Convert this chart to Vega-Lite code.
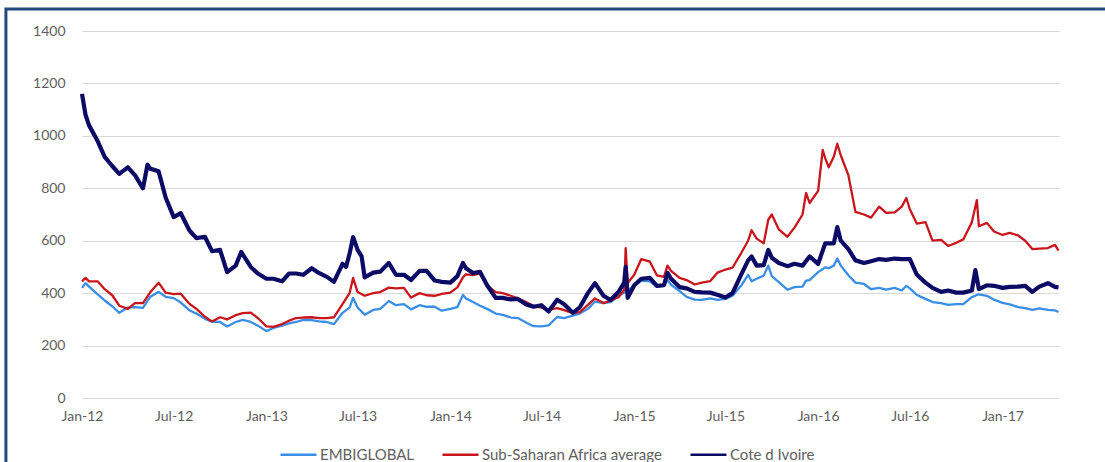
{
"$schema": "https://vega.github.io/schema/vega-lite/v6.json",
"width": 977,
"height": 367,
"autosize": {"type": "none"},
"padding": {"left": 82, "top": 31, "right": 46, "bottom": 64},
"background": "white",
"config": {"view": {"stroke": null}, "font": "Lato"},
"layer": [
{
"data": {"values": [{}]},
"mark": {"type": "rect", "fillOpacity": 0, "stroke": "#23497a", "strokeWidth": 3, "clip": false},
"encoding": {
"x": {"datum": {"year": 2011, "month": 8, "date": 3, "utc": true}, "type": "temporal"},
"x2": {"datum": {"year": 2018, "month": 6, "date": 1, "utc": true}},
"y": {"datum": 1484, "type": "quantitative"},
"y2": {"datum": -400}
}
},
{
"data": {"values": [
{"series":"EMBIGLOBAL","date":"2012-01-01","spread":420},{"series":"EMBIGLOBAL","date":"2012-01-08","spread":438},{"series":"EMBIGLOBAL","date":"2012-01-15","spread":425},{"series":"EMBIGLOBAL","date":"2012-02-01","spread":395},{"series":"EMBIGLOBAL","date":"2012-02-15","spread":372},{"series":"EMBIGLOBAL","date":"2012-03-01","spread":350},{"series":"EMBIGLOBAL","date":"2012-03-15","spread":325},{"series":"EMBIGLOBAL","date":"2012-04-01","spread":345},{"series":"EMBIGLOBAL","date":"2012-04-15","spread":347},{"series":"EMBIGLOBAL","date":"2012-05-01","spread":344},{"series":"EMBIGLOBAL","date":"2012-05-15","spread":385},{"series":"EMBIGLOBAL","date":"2012-06-01","spread":405},{"series":"EMBIGLOBAL","date":"2012-06-15","spread":386},{"series":"EMBIGLOBAL","date":"2012-07-01","spread":381},{"series":"EMBIGLOBAL","date":"2012-07-15","spread":364},{"series":"EMBIGLOBAL","date":"2012-08-01","spread":335},{"series":"EMBIGLOBAL","date":"2012-08-15","spread":322},{"series":"EMBIGLOBAL","date":"2012-09-01","spread":302},{"series":"EMBIGLOBAL","date":"2012-09-15","spread":291},{"series":"EMBIGLOBAL","date":"2012-10-01","spread":290},{"series":"EMBIGLOBAL","date":"2012-10-15","spread":273},{"series":"EMBIGLOBAL","date":"2012-11-01","spread":290},{"series":"EMBIGLOBAL","date":"2012-11-15","spread":298},{"series":"EMBIGLOBAL","date":"2012-12-01","spread":290},{"series":"EMBIGLOBAL","date":"2012-12-15","spread":276},
{"series":"EMBIGLOBAL","date":"2013-01-01","spread":255},{"series":"EMBIGLOBAL","date":"2013-01-15","spread":267},{"series":"EMBIGLOBAL","date":"2013-02-01","spread":276},{"series":"EMBIGLOBAL","date":"2013-02-15","spread":285},{"series":"EMBIGLOBAL","date":"2013-03-01","spread":290},{"series":"EMBIGLOBAL","date":"2013-03-15","spread":298},{"series":"EMBIGLOBAL","date":"2013-04-01","spread":297},{"series":"EMBIGLOBAL","date":"2013-04-15","spread":292},{"series":"EMBIGLOBAL","date":"2013-05-01","spread":290},{"series":"EMBIGLOBAL","date":"2013-05-15","spread":282},{"series":"EMBIGLOBAL","date":"2013-06-01","spread":325},{"series":"EMBIGLOBAL","date":"2013-06-15","spread":345},{"series":"EMBIGLOBAL","date":"2013-06-22","spread":382},{"series":"EMBIGLOBAL","date":"2013-07-01","spread":345},{"series":"EMBIGLOBAL","date":"2013-07-15","spread":318},{"series":"EMBIGLOBAL","date":"2013-08-01","spread":336},{"series":"EMBIGLOBAL","date":"2013-08-15","spread":340},{"series":"EMBIGLOBAL","date":"2013-09-01","spread":370},{"series":"EMBIGLOBAL","date":"2013-09-15","spread":354},{"series":"EMBIGLOBAL","date":"2013-10-01","spread":358},{"series":"EMBIGLOBAL","date":"2013-10-15","spread":338},{"series":"EMBIGLOBAL","date":"2013-11-01","spread":354},{"series":"EMBIGLOBAL","date":"2013-11-15","spread":348},{"series":"EMBIGLOBAL","date":"2013-12-01","spread":348},{"series":"EMBIGLOBAL","date":"2013-12-15","spread":333},
{"series":"EMBIGLOBAL","date":"2014-01-01","spread":340},{"series":"EMBIGLOBAL","date":"2014-01-15","spread":347},{"series":"EMBIGLOBAL","date":"2014-01-26","spread":393},{"series":"EMBIGLOBAL","date":"2014-02-01","spread":380},{"series":"EMBIGLOBAL","date":"2014-02-15","spread":366},{"series":"EMBIGLOBAL","date":"2014-03-01","spread":352},{"series":"EMBIGLOBAL","date":"2014-03-15","spread":340},{"series":"EMBIGLOBAL","date":"2014-04-01","spread":322},{"series":"EMBIGLOBAL","date":"2014-04-15","spread":317},{"series":"EMBIGLOBAL","date":"2014-05-01","spread":307},{"series":"EMBIGLOBAL","date":"2014-05-15","spread":305},{"series":"EMBIGLOBAL","date":"2014-06-01","spread":287},{"series":"EMBIGLOBAL","date":"2014-06-15","spread":274},{"series":"EMBIGLOBAL","date":"2014-07-01","spread":273},{"series":"EMBIGLOBAL","date":"2014-07-15","spread":277},{"series":"EMBIGLOBAL","date":"2014-08-01","spread":309},{"series":"EMBIGLOBAL","date":"2014-08-15","spread":305},{"series":"EMBIGLOBAL","date":"2014-09-01","spread":314},{"series":"EMBIGLOBAL","date":"2014-09-15","spread":322},{"series":"EMBIGLOBAL","date":"2014-10-01","spread":340},{"series":"EMBIGLOBAL","date":"2014-10-15","spread":368},{"series":"EMBIGLOBAL","date":"2014-11-01","spread":362},{"series":"EMBIGLOBAL","date":"2014-11-15","spread":366},{"series":"EMBIGLOBAL","date":"2014-12-01","spread":390},{"series":"EMBIGLOBAL","date":"2014-12-15","spread":405},
{"series":"EMBIGLOBAL","date":"2015-01-01","spread":428},{"series":"EMBIGLOBAL","date":"2015-01-15","spread":448},{"series":"EMBIGLOBAL","date":"2015-02-01","spread":445},{"series":"EMBIGLOBAL","date":"2015-02-15","spread":424},{"series":"EMBIGLOBAL","date":"2015-03-01","spread":430},{"series":"EMBIGLOBAL","date":"2015-03-08","spread":450},{"series":"EMBIGLOBAL","date":"2015-03-15","spread":432},{"series":"EMBIGLOBAL","date":"2015-04-01","spread":408},{"series":"EMBIGLOBAL","date":"2015-04-15","spread":386},{"series":"EMBIGLOBAL","date":"2015-05-01","spread":375},{"series":"EMBIGLOBAL","date":"2015-05-15","spread":374},{"series":"EMBIGLOBAL","date":"2015-06-01","spread":380},{"series":"EMBIGLOBAL","date":"2015-06-15","spread":374},{"series":"EMBIGLOBAL","date":"2015-07-01","spread":378},{"series":"EMBIGLOBAL","date":"2015-07-15","spread":390},{"series":"EMBIGLOBAL","date":"2015-08-01","spread":428},{"series":"EMBIGLOBAL","date":"2015-08-15","spread":470},{"series":"EMBIGLOBAL","date":"2015-08-22","spread":445},{"series":"EMBIGLOBAL","date":"2015-09-01","spread":455},{"series":"EMBIGLOBAL","date":"2015-09-15","spread":467},{"series":"EMBIGLOBAL","date":"2015-09-24","spread":505},{"series":"EMBIGLOBAL","date":"2015-10-01","spread":465},{"series":"EMBIGLOBAL","date":"2015-10-15","spread":442},{"series":"EMBIGLOBAL","date":"2015-11-01","spread":413},{"series":"EMBIGLOBAL","date":"2015-11-15","spread":423},{"series":"EMBIGLOBAL","date":"2015-12-01","spread":425},{"series":"EMBIGLOBAL","date":"2015-12-08","spread":448},{"series":"EMBIGLOBAL","date":"2015-12-15","spread":450},
{"series":"EMBIGLOBAL","date":"2016-01-01","spread":480},{"series":"EMBIGLOBAL","date":"2016-01-10","spread":492},{"series":"EMBIGLOBAL","date":"2016-01-15","spread":498},{"series":"EMBIGLOBAL","date":"2016-01-22","spread":495},{"series":"EMBIGLOBAL","date":"2016-02-01","spread":505},{"series":"EMBIGLOBAL","date":"2016-02-08","spread":532},{"series":"EMBIGLOBAL","date":"2016-02-15","spread":505},{"series":"EMBIGLOBAL","date":"2016-03-01","spread":468},{"series":"EMBIGLOBAL","date":"2016-03-15","spread":440},{"series":"EMBIGLOBAL","date":"2016-04-01","spread":435},{"series":"EMBIGLOBAL","date":"2016-04-15","spread":415},{"series":"EMBIGLOBAL","date":"2016-05-01","spread":420},{"series":"EMBIGLOBAL","date":"2016-05-15","spread":413},{"series":"EMBIGLOBAL","date":"2016-06-01","spread":420},{"series":"EMBIGLOBAL","date":"2016-06-15","spread":410},{"series":"EMBIGLOBAL","date":"2016-06-24","spread":428},{"series":"EMBIGLOBAL","date":"2016-07-01","spread":418},{"series":"EMBIGLOBAL","date":"2016-07-15","spread":393},{"series":"EMBIGLOBAL","date":"2016-08-01","spread":378},{"series":"EMBIGLOBAL","date":"2016-08-15","spread":366},{"series":"EMBIGLOBAL","date":"2016-09-01","spread":362},{"series":"EMBIGLOBAL","date":"2016-09-15","spread":355},{"series":"EMBIGLOBAL","date":"2016-10-01","spread":358},{"series":"EMBIGLOBAL","date":"2016-10-15","spread":358},{"series":"EMBIGLOBAL","date":"2016-11-01","spread":385},{"series":"EMBIGLOBAL","date":"2016-11-11","spread":393},{"series":"EMBIGLOBAL","date":"2016-11-15","spread":395},{"series":"EMBIGLOBAL","date":"2016-12-01","spread":390},{"series":"EMBIGLOBAL","date":"2016-12-15","spread":375},
{"series":"EMBIGLOBAL","date":"2017-01-01","spread":363},{"series":"EMBIGLOBAL","date":"2017-01-15","spread":357},{"series":"EMBIGLOBAL","date":"2017-02-01","spread":347},{"series":"EMBIGLOBAL","date":"2017-02-15","spread":343},{"series":"EMBIGLOBAL","date":"2017-03-01","spread":336},{"series":"EMBIGLOBAL","date":"2017-03-15","spread":342},{"series":"EMBIGLOBAL","date":"2017-04-01","spread":336},{"series":"EMBIGLOBAL","date":"2017-04-15","spread":334},{"series":"EMBIGLOBAL","date":"2017-04-22","spread":328},
{"series":"Sub-Saharan Africa average","date":"2012-01-01","spread":445},{"series":"Sub-Saharan Africa average","date":"2012-01-08","spread":458},{"series":"Sub-Saharan Africa average","date":"2012-01-15","spread":445},{"series":"Sub-Saharan Africa average","date":"2012-02-01","spread":445},{"series":"Sub-Saharan Africa average","date":"2012-02-15","spread":415},{"series":"Sub-Saharan Africa average","date":"2012-03-01","spread":392},{"series":"Sub-Saharan Africa average","date":"2012-03-15","spread":352},{"series":"Sub-Saharan Africa average","date":"2012-04-01","spread":340},{"series":"Sub-Saharan Africa average","date":"2012-04-15","spread":362},{"series":"Sub-Saharan Africa average","date":"2012-05-01","spread":362},{"series":"Sub-Saharan Africa average","date":"2012-05-15","spread":402},{"series":"Sub-Saharan Africa average","date":"2012-06-01","spread":440},{"series":"Sub-Saharan Africa average","date":"2012-06-15","spread":402},{"series":"Sub-Saharan Africa average","date":"2012-07-01","spread":396},{"series":"Sub-Saharan Africa average","date":"2012-07-15","spread":398},{"series":"Sub-Saharan Africa average","date":"2012-08-01","spread":360},{"series":"Sub-Saharan Africa average","date":"2012-08-15","spread":340},{"series":"Sub-Saharan Africa average","date":"2012-09-01","spread":310},{"series":"Sub-Saharan Africa average","date":"2012-09-15","spread":292},{"series":"Sub-Saharan Africa average","date":"2012-10-01","spread":308},{"series":"Sub-Saharan Africa average","date":"2012-10-15","spread":300},{"series":"Sub-Saharan Africa average","date":"2012-11-01","spread":316},{"series":"Sub-Saharan Africa average","date":"2012-11-15","spread":324},{"series":"Sub-Saharan Africa average","date":"2012-12-01","spread":326},{"series":"Sub-Saharan Africa average","date":"2012-12-15","spread":305},
{"series":"Sub-Saharan Africa average","date":"2013-01-01","spread":273},{"series":"Sub-Saharan Africa average","date":"2013-01-15","spread":271},{"series":"Sub-Saharan Africa average","date":"2013-02-01","spread":282},{"series":"Sub-Saharan Africa average","date":"2013-02-15","spread":295},{"series":"Sub-Saharan Africa average","date":"2013-03-01","spread":305},{"series":"Sub-Saharan Africa average","date":"2013-03-15","spread":307},{"series":"Sub-Saharan Africa average","date":"2013-04-01","spread":308},{"series":"Sub-Saharan Africa average","date":"2013-04-15","spread":305},{"series":"Sub-Saharan Africa average","date":"2013-05-01","spread":305},{"series":"Sub-Saharan Africa average","date":"2013-05-15","spread":308},{"series":"Sub-Saharan Africa average","date":"2013-06-01","spread":358},{"series":"Sub-Saharan Africa average","date":"2013-06-15","spread":400},{"series":"Sub-Saharan Africa average","date":"2013-06-22","spread":458},{"series":"Sub-Saharan Africa average","date":"2013-07-01","spread":404},{"series":"Sub-Saharan Africa average","date":"2013-07-15","spread":390},{"series":"Sub-Saharan Africa average","date":"2013-08-01","spread":400},{"series":"Sub-Saharan Africa average","date":"2013-08-15","spread":404},{"series":"Sub-Saharan Africa average","date":"2013-09-01","spread":421},{"series":"Sub-Saharan Africa average","date":"2013-09-15","spread":418},{"series":"Sub-Saharan Africa average","date":"2013-10-01","spread":420},{"series":"Sub-Saharan Africa average","date":"2013-10-15","spread":383},{"series":"Sub-Saharan Africa average","date":"2013-11-01","spread":400},{"series":"Sub-Saharan Africa average","date":"2013-11-15","spread":392},{"series":"Sub-Saharan Africa average","date":"2013-12-01","spread":390},{"series":"Sub-Saharan Africa average","date":"2013-12-15","spread":397},
{"series":"Sub-Saharan Africa average","date":"2014-01-01","spread":402},{"series":"Sub-Saharan Africa average","date":"2014-01-15","spread":422},{"series":"Sub-Saharan Africa average","date":"2014-01-26","spread":460},{"series":"Sub-Saharan Africa average","date":"2014-02-01","spread":472},{"series":"Sub-Saharan Africa average","date":"2014-02-15","spread":469},{"series":"Sub-Saharan Africa average","date":"2014-03-01","spread":475},{"series":"Sub-Saharan Africa average","date":"2014-03-15","spread":430},{"series":"Sub-Saharan Africa average","date":"2014-04-01","spread":404},{"series":"Sub-Saharan Africa average","date":"2014-04-15","spread":400},{"series":"Sub-Saharan Africa average","date":"2014-05-01","spread":390},{"series":"Sub-Saharan Africa average","date":"2014-05-15","spread":380},{"series":"Sub-Saharan Africa average","date":"2014-06-01","spread":365},{"series":"Sub-Saharan Africa average","date":"2014-06-15","spread":352},{"series":"Sub-Saharan Africa average","date":"2014-07-01","spread":345},{"series":"Sub-Saharan Africa average","date":"2014-07-15","spread":336},{"series":"Sub-Saharan Africa average","date":"2014-08-01","spread":343},{"series":"Sub-Saharan Africa average","date":"2014-08-15","spread":335},{"series":"Sub-Saharan Africa average","date":"2014-09-01","spread":324},{"series":"Sub-Saharan Africa average","date":"2014-09-15","spread":328},{"series":"Sub-Saharan Africa average","date":"2014-10-01","spread":355},{"series":"Sub-Saharan Africa average","date":"2014-10-15","spread":380},{"series":"Sub-Saharan Africa average","date":"2014-11-01","spread":362},{"series":"Sub-Saharan Africa average","date":"2014-11-15","spread":372},{"series":"Sub-Saharan Africa average","date":"2014-12-01","spread":385},{"series":"Sub-Saharan Africa average","date":"2014-12-12","spread":412},{"series":"Sub-Saharan Africa average","date":"2014-12-15","spread":572},{"series":"Sub-Saharan Africa average","date":"2014-12-19","spread":439},
{"series":"Sub-Saharan Africa average","date":"2015-01-01","spread":470},{"series":"Sub-Saharan Africa average","date":"2015-01-15","spread":530},{"series":"Sub-Saharan Africa average","date":"2015-02-01","spread":520},{"series":"Sub-Saharan Africa average","date":"2015-02-15","spread":468},{"series":"Sub-Saharan Africa average","date":"2015-03-01","spread":462},{"series":"Sub-Saharan Africa average","date":"2015-03-08","spread":505},{"series":"Sub-Saharan Africa average","date":"2015-03-15","spread":485},{"series":"Sub-Saharan Africa average","date":"2015-04-01","spread":458},{"series":"Sub-Saharan Africa average","date":"2015-04-15","spread":450},{"series":"Sub-Saharan Africa average","date":"2015-05-01","spread":433},{"series":"Sub-Saharan Africa average","date":"2015-05-15","spread":440},{"series":"Sub-Saharan Africa average","date":"2015-06-01","spread":446},{"series":"Sub-Saharan Africa average","date":"2015-06-15","spread":478},{"series":"Sub-Saharan Africa average","date":"2015-07-01","spread":490},{"series":"Sub-Saharan Africa average","date":"2015-07-15","spread":497},{"series":"Sub-Saharan Africa average","date":"2015-08-01","spread":552},{"series":"Sub-Saharan Africa average","date":"2015-08-15","spread":600},{"series":"Sub-Saharan Africa average","date":"2015-08-22","spread":640},{"series":"Sub-Saharan Africa average","date":"2015-09-01","spread":608},{"series":"Sub-Saharan Africa average","date":"2015-09-15","spread":590},{"series":"Sub-Saharan Africa average","date":"2015-09-24","spread":680},{"series":"Sub-Saharan Africa average","date":"2015-10-01","spread":700},{"series":"Sub-Saharan Africa average","date":"2015-10-15","spread":643},{"series":"Sub-Saharan Africa average","date":"2015-11-01","spread":615},{"series":"Sub-Saharan Africa average","date":"2015-11-15","spread":650},{"series":"Sub-Saharan Africa average","date":"2015-12-01","spread":700},{"series":"Sub-Saharan Africa average","date":"2015-12-08","spread":782},{"series":"Sub-Saharan Africa average","date":"2015-12-15","spread":744},
{"series":"Sub-Saharan Africa average","date":"2016-01-01","spread":790},{"series":"Sub-Saharan Africa average","date":"2016-01-10","spread":946},{"series":"Sub-Saharan Africa average","date":"2016-01-15","spread":915},{"series":"Sub-Saharan Africa average","date":"2016-01-22","spread":880},{"series":"Sub-Saharan Africa average","date":"2016-02-01","spread":920},{"series":"Sub-Saharan Africa average","date":"2016-02-08","spread":970},{"series":"Sub-Saharan Africa average","date":"2016-02-15","spread":925},{"series":"Sub-Saharan Africa average","date":"2016-03-01","spread":850},{"series":"Sub-Saharan Africa average","date":"2016-03-15","spread":710},{"series":"Sub-Saharan Africa average","date":"2016-04-01","spread":700},{"series":"Sub-Saharan Africa average","date":"2016-04-15","spread":688},{"series":"Sub-Saharan Africa average","date":"2016-05-01","spread":730},{"series":"Sub-Saharan Africa average","date":"2016-05-15","spread":706},{"series":"Sub-Saharan Africa average","date":"2016-06-01","spread":708},{"series":"Sub-Saharan Africa average","date":"2016-06-15","spread":730},{"series":"Sub-Saharan Africa average","date":"2016-06-24","spread":763},{"series":"Sub-Saharan Africa average","date":"2016-07-01","spread":720},{"series":"Sub-Saharan Africa average","date":"2016-07-15","spread":665},{"series":"Sub-Saharan Africa average","date":"2016-08-01","spread":671},{"series":"Sub-Saharan Africa average","date":"2016-08-15","spread":600},{"series":"Sub-Saharan Africa average","date":"2016-09-01","spread":603},{"series":"Sub-Saharan Africa average","date":"2016-09-15","spread":580},{"series":"Sub-Saharan Africa average","date":"2016-10-01","spread":592},{"series":"Sub-Saharan Africa average","date":"2016-10-15","spread":605},{"series":"Sub-Saharan Africa average","date":"2016-11-01","spread":670},{"series":"Sub-Saharan Africa average","date":"2016-11-11","spread":755},{"series":"Sub-Saharan Africa average","date":"2016-11-15","spread":655},{"series":"Sub-Saharan Africa average","date":"2016-12-01","spread":668},{"series":"Sub-Saharan Africa average","date":"2016-12-15","spread":635},
{"series":"Sub-Saharan Africa average","date":"2017-01-01","spread":622},{"series":"Sub-Saharan Africa average","date":"2017-01-15","spread":630},{"series":"Sub-Saharan Africa average","date":"2017-02-01","spread":620},{"series":"Sub-Saharan Africa average","date":"2017-02-15","spread":600},{"series":"Sub-Saharan Africa average","date":"2017-03-01","spread":568},{"series":"Sub-Saharan Africa average","date":"2017-03-15","spread":570},{"series":"Sub-Saharan Africa average","date":"2017-04-01","spread":572},{"series":"Sub-Saharan Africa average","date":"2017-04-15","spread":584},{"series":"Sub-Saharan Africa average","date":"2017-04-22","spread":562},
{"series":"Cote d Ivoire","date":"2012-01-01","spread":1160},{"series":"Cote d Ivoire","date":"2012-01-08","spread":1080},{"series":"Cote d Ivoire","date":"2012-01-15","spread":1040},{"series":"Cote d Ivoire","date":"2012-02-01","spread":980},{"series":"Cote d Ivoire","date":"2012-02-15","spread":920},{"series":"Cote d Ivoire","date":"2012-03-01","spread":885},{"series":"Cote d Ivoire","date":"2012-03-15","spread":855},{"series":"Cote d Ivoire","date":"2012-04-01","spread":880},{"series":"Cote d Ivoire","date":"2012-04-15","spread":850},{"series":"Cote d Ivoire","date":"2012-05-01","spread":800},{"series":"Cote d Ivoire","date":"2012-05-10","spread":890},{"series":"Cote d Ivoire","date":"2012-05-15","spread":875},{"series":"Cote d Ivoire","date":"2012-06-01","spread":865},{"series":"Cote d Ivoire","date":"2012-06-15","spread":765},{"series":"Cote d Ivoire","date":"2012-07-01","spread":690},{"series":"Cote d Ivoire","date":"2012-07-15","spread":705},{"series":"Cote d Ivoire","date":"2012-08-01","spread":640},{"series":"Cote d Ivoire","date":"2012-08-15","spread":610},{"series":"Cote d Ivoire","date":"2012-09-01","spread":615},{"series":"Cote d Ivoire","date":"2012-09-15","spread":560},{"series":"Cote d Ivoire","date":"2012-10-01","spread":565},{"series":"Cote d Ivoire","date":"2012-10-15","spread":480},{"series":"Cote d Ivoire","date":"2012-11-01","spread":505},{"series":"Cote d Ivoire","date":"2012-11-12","spread":557},{"series":"Cote d Ivoire","date":"2012-12-01","spread":500},{"series":"Cote d Ivoire","date":"2012-12-15","spread":475},
{"series":"Cote d Ivoire","date":"2013-01-01","spread":455},{"series":"Cote d Ivoire","date":"2013-01-15","spread":455},{"series":"Cote d Ivoire","date":"2013-02-01","spread":445},{"series":"Cote d Ivoire","date":"2013-02-15","spread":475},{"series":"Cote d Ivoire","date":"2013-03-01","spread":475},{"series":"Cote d Ivoire","date":"2013-03-15","spread":470},{"series":"Cote d Ivoire","date":"2013-04-01","spread":495},{"series":"Cote d Ivoire","date":"2013-04-15","spread":477},{"series":"Cote d Ivoire","date":"2013-05-01","spread":462},{"series":"Cote d Ivoire","date":"2013-05-15","spread":443},{"series":"Cote d Ivoire","date":"2013-06-01","spread":512},{"series":"Cote d Ivoire","date":"2013-06-08","spread":500},{"series":"Cote d Ivoire","date":"2013-06-15","spread":550},{"series":"Cote d Ivoire","date":"2013-06-22","spread":614},{"series":"Cote d Ivoire","date":"2013-07-01","spread":565},{"series":"Cote d Ivoire","date":"2013-07-09","spread":540},{"series":"Cote d Ivoire","date":"2013-07-15","spread":460},{"series":"Cote d Ivoire","date":"2013-08-01","spread":478},{"series":"Cote d Ivoire","date":"2013-08-15","spread":482},{"series":"Cote d Ivoire","date":"2013-09-01","spread":515},{"series":"Cote d Ivoire","date":"2013-09-15","spread":470},{"series":"Cote d Ivoire","date":"2013-10-01","spread":470},{"series":"Cote d Ivoire","date":"2013-10-15","spread":450},{"series":"Cote d Ivoire","date":"2013-11-01","spread":485},{"series":"Cote d Ivoire","date":"2013-11-15","spread":485},{"series":"Cote d Ivoire","date":"2013-12-01","spread":448},{"series":"Cote d Ivoire","date":"2013-12-15","spread":443},
{"series":"Cote d Ivoire","date":"2014-01-01","spread":440},{"series":"Cote d Ivoire","date":"2014-01-15","spread":465},{"series":"Cote d Ivoire","date":"2014-01-26","spread":515},{"series":"Cote d Ivoire","date":"2014-02-01","spread":495},{"series":"Cote d Ivoire","date":"2014-02-15","spread":477},{"series":"Cote d Ivoire","date":"2014-03-01","spread":481},{"series":"Cote d Ivoire","date":"2014-03-15","spread":430},{"series":"Cote d Ivoire","date":"2014-04-01","spread":382},{"series":"Cote d Ivoire","date":"2014-04-15","spread":382},{"series":"Cote d Ivoire","date":"2014-05-01","spread":376},{"series":"Cote d Ivoire","date":"2014-05-15","spread":378},{"series":"Cote d Ivoire","date":"2014-06-01","spread":357},{"series":"Cote d Ivoire","date":"2014-06-15","spread":348},{"series":"Cote d Ivoire","date":"2014-07-01","spread":354},{"series":"Cote d Ivoire","date":"2014-07-15","spread":330},{"series":"Cote d Ivoire","date":"2014-08-01","spread":375},{"series":"Cote d Ivoire","date":"2014-08-15","spread":358},{"series":"Cote d Ivoire","date":"2014-09-01","spread":325},{"series":"Cote d Ivoire","date":"2014-09-15","spread":346},{"series":"Cote d Ivoire","date":"2014-10-01","spread":400},{"series":"Cote d Ivoire","date":"2014-10-15","spread":438},{"series":"Cote d Ivoire","date":"2014-11-01","spread":390},{"series":"Cote d Ivoire","date":"2014-11-15","spread":374},{"series":"Cote d Ivoire","date":"2014-12-01","spread":405},{"series":"Cote d Ivoire","date":"2014-12-12","spread":440},{"series":"Cote d Ivoire","date":"2014-12-15","spread":500},{"series":"Cote d Ivoire","date":"2014-12-19","spread":382},
{"series":"Cote d Ivoire","date":"2015-01-01","spread":430},{"series":"Cote d Ivoire","date":"2015-01-15","spread":455},{"series":"Cote d Ivoire","date":"2015-02-01","spread":458},{"series":"Cote d Ivoire","date":"2015-02-15","spread":428},{"series":"Cote d Ivoire","date":"2015-03-01","spread":430},{"series":"Cote d Ivoire","date":"2015-03-08","spread":477},{"series":"Cote d Ivoire","date":"2015-03-15","spread":455},{"series":"Cote d Ivoire","date":"2015-04-01","spread":423},{"series":"Cote d Ivoire","date":"2015-04-15","spread":418},{"series":"Cote d Ivoire","date":"2015-05-01","spread":405},{"series":"Cote d Ivoire","date":"2015-05-15","spread":403},{"series":"Cote d Ivoire","date":"2015-06-01","spread":402},{"series":"Cote d Ivoire","date":"2015-06-15","spread":394},{"series":"Cote d Ivoire","date":"2015-07-01","spread":383},{"series":"Cote d Ivoire","date":"2015-07-15","spread":400},{"series":"Cote d Ivoire","date":"2015-08-01","spread":470},{"series":"Cote d Ivoire","date":"2015-08-15","spread":525},{"series":"Cote d Ivoire","date":"2015-08-22","spread":540},{"series":"Cote d Ivoire","date":"2015-09-01","spread":505},{"series":"Cote d Ivoire","date":"2015-09-15","spread":507},{"series":"Cote d Ivoire","date":"2015-09-24","spread":565},{"series":"Cote d Ivoire","date":"2015-10-01","spread":535},{"series":"Cote d Ivoire","date":"2015-10-15","spread":515},{"series":"Cote d Ivoire","date":"2015-11-01","spread":503},{"series":"Cote d Ivoire","date":"2015-11-15","spread":512},{"series":"Cote d Ivoire","date":"2015-12-01","spread":505},{"series":"Cote d Ivoire","date":"2015-12-15","spread":540},
{"series":"Cote d Ivoire","date":"2016-01-01","spread":512},{"series":"Cote d Ivoire","date":"2016-01-15","spread":590},{"series":"Cote d Ivoire","date":"2016-02-01","spread":590},{"series":"Cote d Ivoire","date":"2016-02-08","spread":652},{"series":"Cote d Ivoire","date":"2016-02-15","spread":600},{"series":"Cote d Ivoire","date":"2016-03-01","spread":568},{"series":"Cote d Ivoire","date":"2016-03-15","spread":525},{"series":"Cote d Ivoire","date":"2016-04-01","spread":515},{"series":"Cote d Ivoire","date":"2016-04-15","spread":522},{"series":"Cote d Ivoire","date":"2016-05-01","spread":530},{"series":"Cote d Ivoire","date":"2016-05-15","spread":527},{"series":"Cote d Ivoire","date":"2016-06-01","spread":532},{"series":"Cote d Ivoire","date":"2016-06-15","spread":530},{"series":"Cote d Ivoire","date":"2016-07-01","spread":530},{"series":"Cote d Ivoire","date":"2016-07-15","spread":470},{"series":"Cote d Ivoire","date":"2016-08-01","spread":440},{"series":"Cote d Ivoire","date":"2016-08-15","spread":420},{"series":"Cote d Ivoire","date":"2016-09-01","spread":405},{"series":"Cote d Ivoire","date":"2016-09-15","spread":410},{"series":"Cote d Ivoire","date":"2016-10-01","spread":402},{"series":"Cote d Ivoire","date":"2016-10-15","spread":402},{"series":"Cote d Ivoire","date":"2016-11-01","spread":410},{"series":"Cote d Ivoire","date":"2016-11-08","spread":488},{"series":"Cote d Ivoire","date":"2016-11-15","spread":415},{"series":"Cote d Ivoire","date":"2016-12-01","spread":430},{"series":"Cote d Ivoire","date":"2016-12-15","spread":428},
{"series":"Cote d Ivoire","date":"2017-01-01","spread":420},{"series":"Cote d Ivoire","date":"2017-01-15","spread":424},{"series":"Cote d Ivoire","date":"2017-02-01","spread":425},{"series":"Cote d Ivoire","date":"2017-02-15","spread":428},{"series":"Cote d Ivoire","date":"2017-03-01","spread":405},{"series":"Cote d Ivoire","date":"2017-03-15","spread":425},{"series":"Cote d Ivoire","date":"2017-04-01","spread":438},{"series":"Cote d Ivoire","date":"2017-04-15","spread":424},{"series":"Cote d Ivoire","date":"2017-04-22","spread":422}
]},
"encoding": {
"x": {"field": "date", "type": "temporal",
"scale": {"type": "utc", "domain": [{"year": 2012, "month": 1, "date": 1, "utc": true}, {"year": 2017, "month": 4, "date": 23, "utc": true}]},
"axis": {"title": null, "grid": false, "domain": false, "ticks": false, "labelPadding": 11, "labelFont": "Lato", "labelFontSize": 14, "labelColor": "#606060", "format": "%b-%y", "labelOverlap": false, "labelFlush": false,
"values": [{"year":2012,"month":1,"date":1,"utc":true},{"year":2012,"month":7,"date":1,"utc":true},{"year":2013,"month":1,"date":1,"utc":true},{"year":2013,"month":7,"date":1,"utc":true},{"year":2014,"month":1,"date":1,"utc":true},{"year":2014,"month":7,"date":1,"utc":true},{"year":2015,"month":1,"date":1,"utc":true},{"year":2015,"month":7,"date":1,"utc":true},{"year":2016,"month":1,"date":1,"utc":true},{"year":2016,"month":7,"date":1,"utc":true},{"year":2017,"month":1,"date":1,"utc":true}]}},
"y": {"field": "spread", "type": "quantitative",
"scale": {"domain": [0, 1400]},
"axis": {"title": null, "values": [0,200,400,600,800,1000,1200,1400], "format": "d", "grid": true, "gridColor": "#d9d9d9", "gridWidth": 1.2, "domain": false, "ticks": false, "labelPadding": 17, "labelFont": "Lato", "labelFontSize": 14, "labelColor": "#606060"}},
"color": {"field": "series", "type": "nominal",
"scale": {"domain": ["EMBIGLOBAL", "Sub-Saharan Africa average", "Cote d Ivoire"], "range": ["#3a8ee6", "#c8161c", "#0b0b66"]},
"legend": {"orient": "none", "legendX": 197, "legendY": 404, "direction": "horizontal", "title": null, "symbolType": "stroke", "symbolSize": 1296, "symbolStrokeWidth": 2.6, "labelFont": "Lato", "labelFontSize": 15, "labelColor": "#606060", "labelOffset": 2, "labelLimit": 400, "columnPadding": 22}}
},
"layer": [
{"transform": [{"filter": "datum.series == 'EMBIGLOBAL'"}], "mark": {"type": "line", "strokeWidth": 2.3, "strokeJoin": "round"}},
{"transform": [{"filter": "datum.series == 'Sub-Saharan Africa average'"}], "mark": {"type": "line", "strokeWidth": 2.3, "strokeJoin": "round"}},
{"transform": [{"filter": "datum.series == 'Cote d Ivoire'"}], "mark": {"type": "line", "strokeWidth": 4.2, "strokeJoin": "round"}}
]
}
]
}
